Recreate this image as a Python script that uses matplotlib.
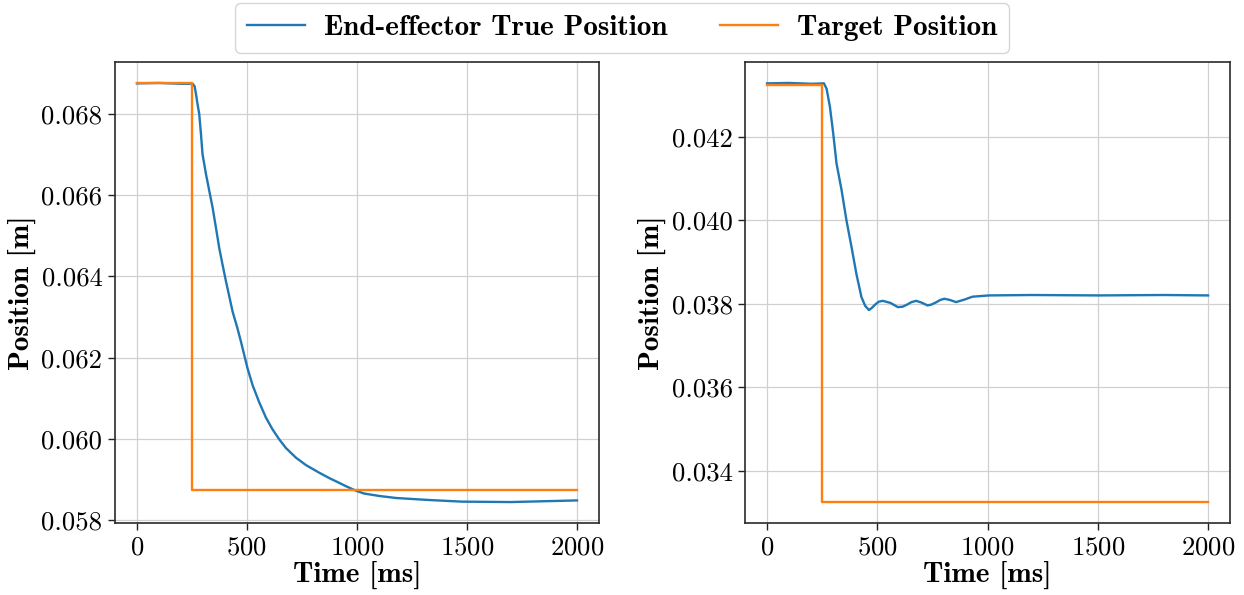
import matplotlib
matplotlib.use("Agg")
import matplotlib.pyplot as plt
from matplotlib.ticker import FormatStrFormatter

# ---- data -------------------------------------------------------------
# left run: measured end-effector position [m] vs time [ms]
time_left = [0, 100, 200, 253, 262, 268, 275, 283, 291, 298, 314, 329, 344,
             359, 374, 389, 405, 420, 435, 457, 473, 488, 503, 526, 556, 586,
             616, 647, 677, 723, 768, 829, 874, 920, 950, 995, 1032, 1101,
             1177, 1328, 1478, 1700, 2000]
pos_left = [0.06875, 0.06876, 0.06874, 0.06874, 0.06868, 0.06850, 0.06825,
            0.06800, 0.06750, 0.06701, 0.06651, 0.06610, 0.06569, 0.06520,
            0.06470, 0.06429, 0.06387, 0.06350, 0.06313, 0.06272, 0.06239,
            0.06206, 0.06173, 0.06132, 0.06090, 0.06053, 0.06024, 0.05999,
            0.05978, 0.05954, 0.05936, 0.05917, 0.05904, 0.05892, 0.05884,
            0.05873, 0.05866, 0.05860, 0.05855, 0.05850, 0.05846, 0.05845,
            0.05849]
# left run: commanded target (step at 250 ms)
target_time_left = [0, 250, 2000]
target_pos_left = [0.06875, 0.05875, 0.05875]

# right run: measured end-effector position [m] vs time [ms]
time_right = [0, 100, 200, 258, 270, 285, 300, 315, 338, 360, 383, 405, 428,
              445, 462, 475, 490, 507, 525, 560, 593, 615, 635, 655, 676, 700,
              728, 745, 765, 785, 804, 830, 857, 895, 932, 1007, 1200, 1500,
              1800, 2000]
pos_right = [0.04328, 0.04329, 0.04327, 0.04328, 0.04315, 0.04272, 0.04208,
             0.04136, 0.04072, 0.04000, 0.03936, 0.03872, 0.03816, 0.03795,
             0.03785, 0.03790, 0.03798, 0.03805, 0.03807, 0.03802, 0.03792,
             0.03793, 0.03798, 0.03804, 0.03807, 0.03803, 0.03796, 0.03798,
             0.03803, 0.03809, 0.03812, 0.03809, 0.03804, 0.03810, 0.03817,
             0.03820, 0.03821, 0.03820, 0.03821, 0.03820]
# right run: commanded target (step at 250 ms)
target_time_right = [0, 250, 2000]
target_pos_right = [0.04325, 0.03325, 0.03325]

x_ticks = [0, 500, 1000, 1500, 2000]
y_ticks_left = [0.058, 0.060, 0.062, 0.064, 0.066, 0.068]
y_ticks_right = [0.034, 0.036, 0.038, 0.040, 0.042]

labels = ["End-effector True Position", "Target Position"]

# ---- styling ----------------------------------------------------------
plt.rcParams["font.family"] = "cmr10"
plt.rcParams["axes.formatter.use_mathtext"] = True
plt.rcParams["mathtext.fontset"] = "cm"

BLUE = "#1f77b4"
ORANGE = "#ff7f0e"
TICK_FS = 19.3
LABEL_FS = 21

fig = plt.figure(figsize=(12.44, 5.95), dpi=100)
ax_l = fig.add_axes([0.0924, 0.121, 0.3891, 0.7748])
ax_r = fig.add_axes([0.5989, 0.121, 0.3899, 0.7748])

panels = [
    (ax_l, time_left, pos_left, target_time_left, target_pos_left, y_ticks_left),
    (ax_r, time_right, pos_right, target_time_right, target_pos_right, y_ticks_right),
]

for ax, t, p, tt, tp, yt in panels:
    ax.plot(t, p, color=BLUE, lw=1.7, label=labels[0])
    ax.plot(tt, tp, color=ORANGE, lw=1.7, drawstyle="steps-post", label=labels[1])
    ax.set_xticks(x_ticks)
    ax.set_yticks(yt)
    ax.yaxis.set_major_formatter(FormatStrFormatter("%.3f"))
    ax.grid(True, color="#d0d0d0", lw=0.9)
    ax.set_axisbelow(True)
    ax.tick_params(labelsize=TICK_FS, length=5, width=1.0, color="#222222",
                   pad=4)
    for s in ax.spines.values():
        s.set_color("#2a2a2a")
        s.set_linewidth(1.2)
    ax.set_xlabel("Time [ms]", family="cmb10", fontsize=LABEL_FS, labelpad=1)
    ax.set_ylabel("Position [m]", family="cmb10", fontsize=LABEL_FS, labelpad=4)

handles, _ = ax_l.get_legend_handles_labels()
fig.legend(handles, labels, loc="upper center", bbox_to_anchor=(0.5, 1.0),
           ncol=2, prop={"family": "cmb10", "size": LABEL_FS},
           handlelength=2.0, handletextpad=0.65, columnspacing=1.8,
           frameon=True, edgecolor="#cccccc", fancybox=True, borderpad=0.4,
           borderaxespad=0.1)

fig.savefig("out.png", dpi=100)
